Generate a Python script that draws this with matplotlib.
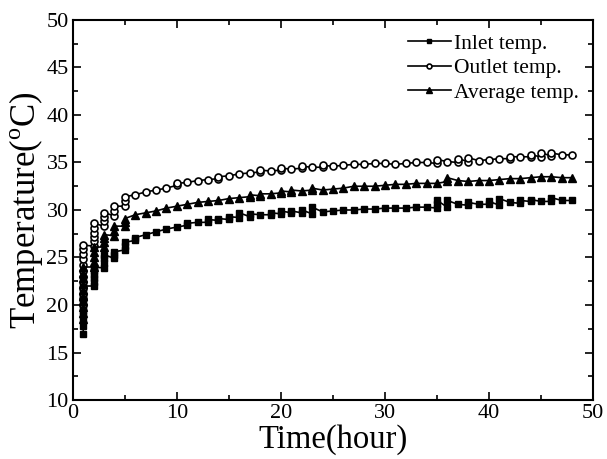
import numpy as np
import matplotlib
matplotlib.use('Agg')
from matplotlib import pyplot as plt

plt.rcParams['font.family'] = ['Liberation Serif', 'DejaVu Serif']
plt.rcParams['mathtext.fontset'] = 'custom'
plt.rcParams['mathtext.rm'] = 'Liberation Serif'

# readings per hour (several samples fall in the same hour)
inlet = [
    [17.0, 17.8, 18.5, 19.0, 19.4, 19.8, 20.2, 20.6, 21.0, 21.4, 21.8, 22.0],
    [22.0, 22.4, 22.8, 23.2, 23.6, 24.0],
    [23.9, 24.4, 24.9, 25.3], [24.9, 25.3, 25.6], [25.8, 26.2, 26.6],
    [26.8, 27.1], [27.4], [27.7], [28.0], [28.2],
    [28.4, 28.6], [28.7], [28.7, 29.0], [28.9, 29.1], [29.0, 29.3],
    [29.2, 29.7], [29.3, 29.6], [29.5], [29.5, 29.7], [29.6, 29.9],
    [29.7, 29.9], [29.7, 30.0], [29.6, 30.3], [29.8], [29.9],
    [30.0], [30.0], [30.1], [30.1], [30.2],
    [30.2], [30.2], [30.3], [30.3], [30.2, 30.6, 31.0],
    [30.3, 31.0], [30.6], [30.5, 30.8], [30.6], [30.6, 30.9],
    [30.5, 31.2], [30.8], [30.7, 31.0], [30.9, 31.1], [30.9],
    [30.9, 31.3], [31.0], [31.0],
]
outlet = [
    [20.0, 20.6, 21.2, 21.8, 22.4, 23.0, 23.6, 24.2, 24.8, 25.4, 25.9, 26.3],
    [26.2, 26.7, 27.2, 27.6, 28.1, 28.6],
    [28.3, 28.8, 29.3, 29.7], [29.4, 29.9, 30.4], [30.4, 30.9, 31.4],
    [31.6], [31.9], [32.1], [32.3], [32.6, 32.8],
    [32.9], [33.1], [33.2], [33.3, 33.5], [33.6],
    [33.8], [33.9], [34.0, 34.2], [34.1], [34.2, 34.4],
    [34.3], [34.4, 34.6], [34.5], [34.5, 34.7], [34.6],
    [34.7], [34.8], [34.8], [34.9], [34.9],
    [34.8], [34.9], [35.0], [35.0], [34.9, 35.3],
    [35.1], [35.0, 35.4], [35.1, 35.5], [35.2], [35.3],
    [35.4], [35.4, 35.6], [35.6], [35.6, 35.8], [35.6, 36.0],
    [35.7, 36.0], [35.8], [35.8],
]
average = [
    [18.5, 19.2, 19.8, 20.4, 21.0, 21.6, 22.2, 22.8, 23.4, 24.0],
    [24.0, 24.5, 25.0, 25.6, 26.1],
    [26.1, 26.6, 27.0, 27.4], [27.3, 27.8, 28.3], [28.3, 28.7, 29.1],
    [29.5], [29.7], [29.9], [30.2], [30.4],
    [30.6], [30.8], [30.9], [31.0], [31.2],
    [31.3], [31.4, 31.6], [31.5, 31.7], [31.7], [31.8, 32.0],
    [31.9, 32.1], [32.0], [32.1, 32.3], [32.1], [32.2],
    [32.3], [32.5], [32.5], [32.5], [32.6],
    [32.7], [32.7], [32.8], [32.8], [32.8],
    [33.0, 33.4], [33.1], [33.0], [33.1], [33.1],
    [33.2], [33.3], [33.3], [33.4], [33.5],
    [33.5], [33.4], [33.4],
]
hours = list(range(1, 49))


def flatten(readings):
    xs = []
    ys = []
    for h, vals in zip(hours, readings):
        for v in vals:
            xs.append(h)
            ys.append(v)
    return xs, ys


fig = plt.figure(figsize=(6.07, 4.59), dpi=100)
ax = fig.add_axes([0.120, 0.1285, 0.857, 0.828])

x, y = flatten(inlet)
ax.plot(x, y, color='k', lw=1.2, marker='s', ms=5, label='Inlet temp.')
x, y = flatten(outlet)
ax.plot(x, y, color='k', lw=1.2, marker='o', ms=5, mfc='white', mew=1.2, label='Outlet temp.')
x, y = flatten(average)
ax.plot(x, y, color='k', lw=1.2, marker='^', ms=5.5, label='Average temp.')

ax.set_xlim(0, 50)
ax.set_ylim(10, 50)
ax.set_xticks(np.arange(0, 51, 10))
ax.set_xticks(np.arange(0, 51, 5), minor=True)
ax.set_yticks(np.arange(10, 51, 5))
ax.set_yticks(np.arange(10, 51, 2.5), minor=True)
ax.tick_params(which='both', direction='in', top=True, right=True, width=1.2)
ax.tick_params(which='major', length=6, labelsize=16, pad=3)
ax.tick_params(which='minor', length=3.5)
for s in ax.spines.values():
    s.set_linewidth(1.5)

ax.set_xlabel('Time(hour)', fontsize=23.5, labelpad=1)
ax.set_ylabel(r'Temperature($^{\rm o}$C)', fontsize=25, labelpad=1)

leg = ax.legend(loc='upper right', frameon=False, fontsize=15.5, handlelength=2.0,
                handletextpad=0.15, labelspacing=0.2, markerscale=0.7,
                borderaxespad=0.25)

fig.savefig('out.png', dpi=100)
